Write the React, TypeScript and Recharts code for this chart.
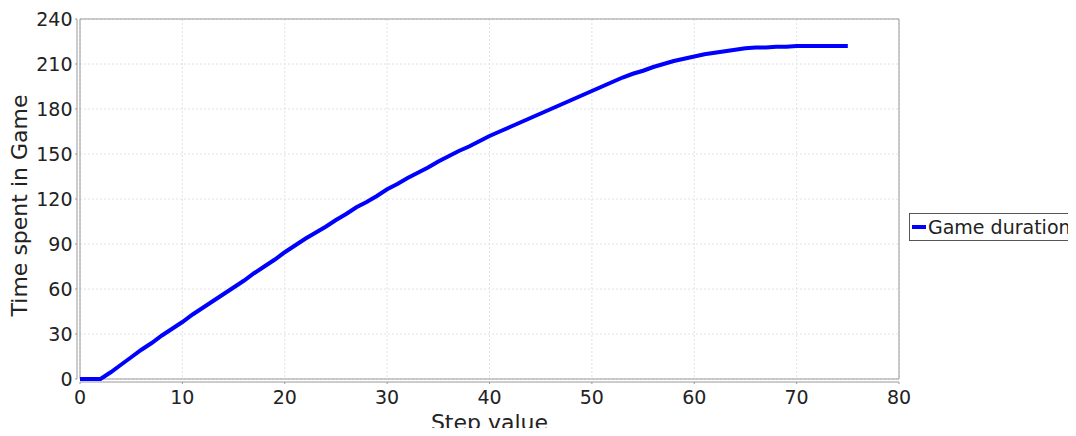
import React from 'react';
import { LineChart, Line, XAxis, YAxis, CartesianGrid, Legend, ReferenceArea } from 'recharts';

const steps = [
  0, 1, 2, 3, 4, 5, 6, 7, 8, 9, 10,
  11, 12, 13, 14, 15, 16, 17, 18, 19, 20,
  21, 22, 23, 24, 25, 26, 27, 28, 29, 30,
  31, 32, 33, 34, 35, 36, 37, 38, 39, 40,
  41, 42, 43, 44, 45, 46, 47, 48, 49, 50,
  51, 52, 53, 54, 55, 56, 57, 58, 59, 60,
  61, 62, 63, 64, 65, 66, 67, 68, 69, 70,
  71, 72, 73, 74, 75,
];

const gameDuration = [
  0, 0, 0, 4.5, 9.5, 14.5, 19.5, 24, 29, 33.5, 38,
  43, 47.5, 52, 56.5, 61, 65.5, 70.5, 75, 79.5, 84.5,
  89, 93.5, 97.5, 101.5, 106, 110, 114.5, 118, 122, 126.5,
  130, 134, 137.5, 141, 145, 148.5, 152, 155, 158.5, 162,
  165, 168, 171, 174, 177, 180, 183, 186, 189, 192,
  195, 198, 201, 203.5, 205.5, 208, 210, 212, 213.5, 215,
  216.5, 217.5, 218.5, 219.5, 220.5, 221, 221, 221.5, 221.5, 222,
  222, 222, 222, 222, 222,
];

const xTicks = [0, 10, 20, 30, 40, 50, 60, 70, 80];
const yTicks = [0, 30, 60, 90, 120, 150, 180, 210, 240];
const seriesName = 'Game duration';
const xLabel = 'Step value';
const yLabel = 'Time spent in Game';

const data = steps.map((s, i) => ({ step: s, duration: gameDuration[i] }));

const FONT = '"DejaVu Sans", sans-serif';

const XLabelContent = (props: any) => {
  const vb = props.viewBox;
  const cx = vb.x + vb.width / 2;
  const y = vb.y + 51;
  return (
    <text x={cx} y={y} textAnchor="middle" fontSize={22} fontFamily={FONT} fill="#222">
      {xLabel}
    </text>
  );
};

const YLabelContent = (props: any) => {
  const vb = props.viewBox;
  const cx = vb.x + 26.5;
  const cy = vb.y + vb.height / 2 + 6.5;
  return (
    <text
      x={cx}
      y={cy}
      transform={`rotate(-90, ${cx}, ${cy})`}
      textAnchor="middle"
      fontSize={22}
      fontFamily={FONT}
      fill="#222"
    >
      {yLabel}
    </text>
  );
};

const LegendContent = () => (
  <div
    style={{
      display: 'flex',
      alignItems: 'center',
      boxSizing: 'border-box',
      border: '1px solid #555',
      background: '#fff',
      width: 165,
      height: 28,
      padding: '0 2px',
      whiteSpace: 'nowrap',
      fontFamily: FONT,
      fontSize: 19,
      color: '#222',
    }}
  >
    <svg width={14} height={6} style={{ display: 'block', flex: 'none' }}>
      <line x1={0} y1={3} x2={14} y2={3} stroke="#0000ff" strokeWidth={4} />
    </svg>
    <span style={{ marginLeft: 2 }}>{seriesName}</span>
  </div>
);

export default function App() {
  return (
    <div style={{ margin: -8, width: 1076, height: 436, overflow: 'visible' }}>
      <LineChart
        width={1076}
        height={436}
        data={data}
        margin={{ top: 19, right: 177, bottom: 0, left: 0 }}
        style={{ fontFamily: FONT }}
      >
        <CartesianGrid stroke="#e2e2e2" strokeDasharray="2 2" />
        <ReferenceArea x1={0} x2={80} y1={0} y2={240} fill="none" stroke="#999" strokeWidth={1} />
        <XAxis
          type="number"
          dataKey="step"
          domain={[0, 80]}
          ticks={xTicks}
          height={57}
          tickSize={2}
          tickMargin={9.5}
          axisLine={{ stroke: '#999', transform: 'translate(0,3)' }}
          tickLine={{ stroke: '#999', transform: 'translate(0,3)' }}
          tick={{ fontSize: 19, fill: '#222', fontFamily: FONT }}
          label={{ content: XLabelContent }}
        />
        <YAxis
          type="number"
          domain={[0, 240]}
          ticks={yTicks}
          width={80}
          tickSize={2}
          tickMargin={5.5}
          axisLine={{ stroke: '#999', transform: 'translate(-3,0)' }}
          tickLine={{ stroke: '#999', transform: 'translate(-3,0)' }}
          tick={{ fontSize: 19, fill: '#222', fontFamily: FONT }}
          label={{ content: YLabelContent }}
        />
        <Legend
          content={LegendContent}
          wrapperStyle={{ left: 909, top: 213, width: 0, height: 0, overflow: 'visible' }}
        />
        <Line
          type="linear"
          dataKey="duration"
          name={seriesName}
          stroke="#0000ff"
          strokeWidth={4}
          dot={false}
          isAnimationActive={false}
        />
      </LineChart>
    </div>
  );
}
